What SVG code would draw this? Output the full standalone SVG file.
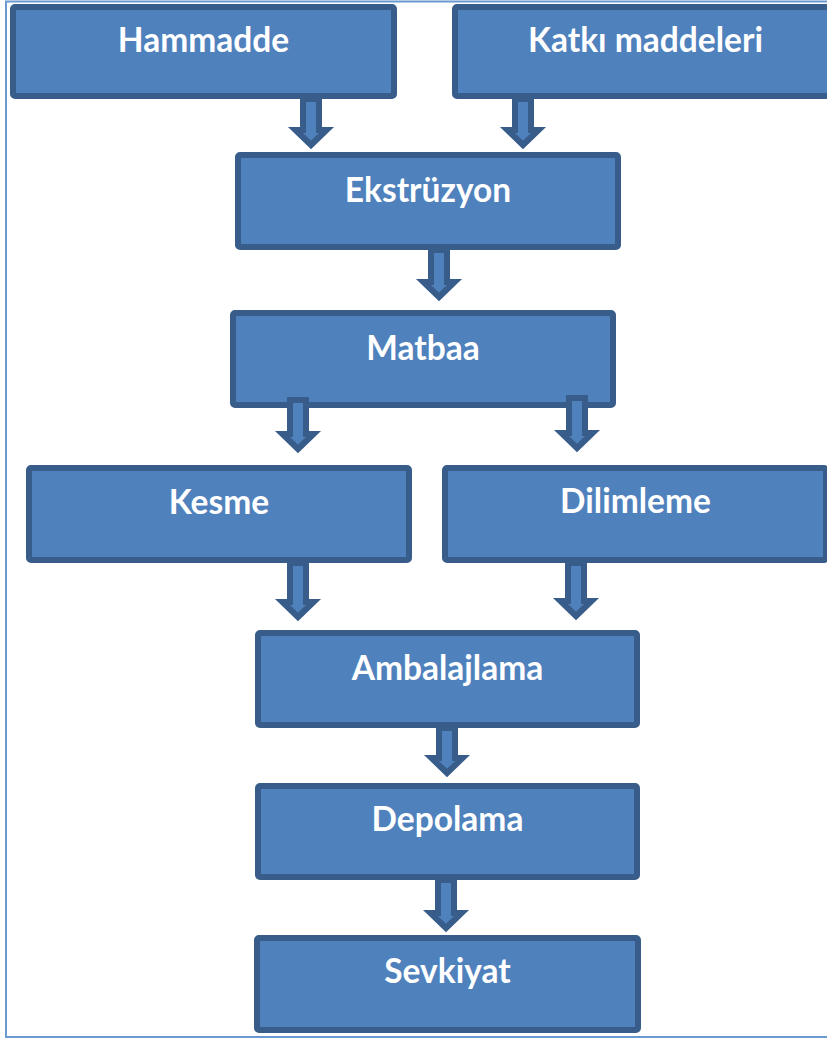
<svg xmlns="http://www.w3.org/2000/svg" width="827" height="1039" viewBox="0 0 827 1039">
<style>
.box{fill:#4F81BD;stroke:#385D8A;stroke-width:6;}
.lbl{font-family:Lato,"Open Sans","Liberation Sans",sans-serif;font-weight:bold;font-size:33.5px;fill:#FFFFFF;text-anchor:middle;}
.arr{fill:#4F81BD;stroke:#385D8A;stroke-width:6;stroke-linejoin:miter;stroke-miterlimit:10;}
</style>
<rect x="0" y="0" width="827" height="1039" fill="#FFFFFF"/>
<rect x="6" y="1.5" width="900" height="1035.5" fill="none" stroke="#6A98D0" stroke-width="2"/>
<g id="n-hammadde"><rect class="box" x="13" y="7" width="381" height="89" rx="2"/><text class="lbl" x="203.5" y="52">Hammadde</text></g>
<g id="n-katki"><rect class="box" x="455" y="7" width="381" height="89" rx="2"/><text class="lbl" x="645.5" y="52">Katkı maddeleri</text></g>
<g id="n-ekstruzyon"><rect class="box" x="238" y="155" width="380" height="92" rx="2"/><text class="lbl" x="428" y="202">Ekstrüzyon</text></g>
<g id="n-matbaa"><rect class="box" x="233" y="313" width="380" height="92" rx="2"/><text class="lbl" x="423" y="360">Matbaa</text></g>
<g id="n-kesme"><rect class="box" x="29" y="468" width="380" height="92" rx="2"/><text class="lbl" x="219" y="514">Kesme</text></g>
<g id="n-dilimleme"><rect class="box" x="445" y="468" width="381" height="92" rx="2"/><text class="lbl" x="635.5" y="513">Dilimleme</text></g>
<g id="n-ambalajlama"><rect class="box" x="258" y="633" width="379" height="92" rx="2"/><text class="lbl" x="447.5" y="680">Ambalajlama</text></g>
<g id="n-depolama"><rect class="box" x="258" y="786" width="379" height="91" rx="2"/><text class="lbl" x="447.5" y="831">Depolama</text></g>
<g id="n-sevkiyat"><rect class="box" x="257" y="938" width="381" height="92" rx="2"/><text class="lbl" x="447.5" y="983">Sevkiyat</text></g>
<g id="connectors">
<path class="arr" d="M303,99 L319,99 L319,130 L326.6,130 L311,145 L295.4,130 L303,130 Z"/>
<path class="arr" d="M515,99 L531,99 L531,130 L538.6,130 L523,145 L507.4,130 L515,130 Z"/>
<path class="arr" d="M431,250 L447,250 L447,282 L454.6,282 L439,297 L423.4,282 L431,282 Z"/>
<path class="arr" d="M290,400 L306,400 L306,434 L313.6,434 L298,449 L282.4,434 L290,434 Z"/>
<path class="arr" d="M569,398 L585,398 L585,433 L592.6,433 L577,448 L561.4,433 L569,433 Z"/>
<path class="arr" d="M290,563 L306,563 L306,602 L313.6,602 L298,617 L282.4,602 L290,602 Z"/>
<path class="arr" d="M568,563 L584,563 L584,601 L591.6,601 L576,616 L560.4,601 L568,601 Z"/>
<path class="arr" d="M439,728 L455,728 L455,758 L462.6,758 L447,773 L431.4,758 L439,758 Z"/>
<path class="arr" d="M438,880 L454,880 L454,913 L461.6,913 L446,928 L430.4,913 L438,913 Z"/>
</g>
</svg>
